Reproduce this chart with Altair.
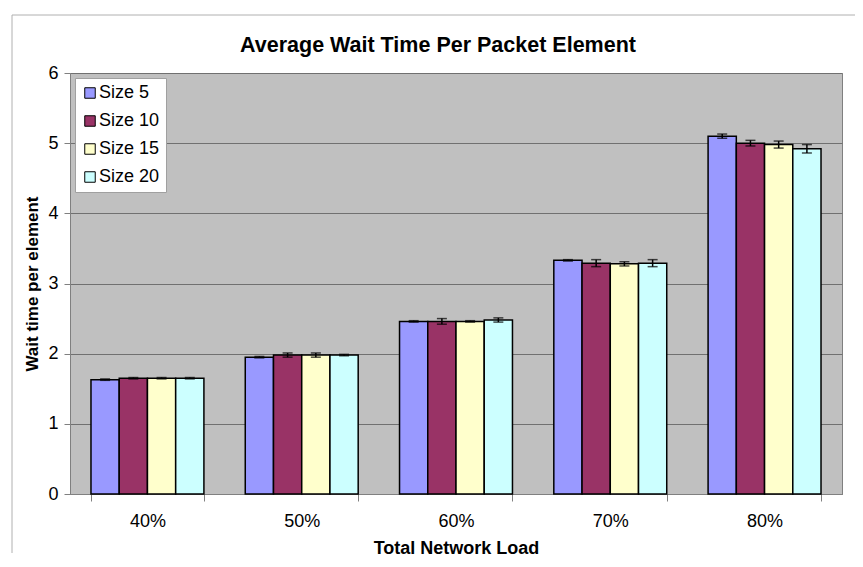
import altair as alt
import pandas as pd

loads = ["40%", "50%", "60%", "70%", "80%"]
sizes = ["Size 5", "Size 10", "Size 15", "Size 20"]
colors = ["#9999FF", "#993366", "#FFFFCC", "#CCFFFF"]
chart_title = ["Average Wait Time Per Packet Element"]

size5 = [1.63, 1.95, 2.46, 3.33, 5.10]
size10 = [1.65, 1.98, 2.46, 3.29, 5.00]
size15 = [1.65, 1.98, 2.46, 3.28, 4.98]
size20 = [1.65, 1.98, 2.48, 3.29, 4.92]

err5 = [0.01, 0.01, 0.01, 0.01, 0.03]
err10 = [0.01, 0.03, 0.04, 0.05, 0.04]
err15 = [0.01, 0.03, 0.01, 0.03, 0.05]
err20 = [0.01, 0.01, 0.03, 0.05, 0.06]

rows = []
for s, vals, errs in zip(sizes, [size5, size10, size15, size20], [err5, err10, err15, err20]):
    for l, v, e in zip(loads, vals, errs):
        rows.append({"load": l, "size": s, "value": v, "lo": v - e, "hi": v + e})
df = pd.DataFrame(rows)

FONT = "Liberation Sans"

x = alt.X("load:N", sort=loads, title="Total Network Load",
          scale=alt.Scale(paddingInner=0.268, paddingOuter=0.136),
          axis=alt.Axis(labelAngle=0, tickBand="extent", tickSize=7, tickColor="#808080",
                        domainColor="#808080", labelPadding=11, labelFontSize=18,
                        titleFontSize=18, titleFontWeight="bold", titlePadding=9,
                        labelFont=FONT, titleFont=FONT, labelColor="black", titleColor="black"))
xo = alt.XOffset("size:N", sort=sizes)

base = alt.Chart(df)

bars = base.mark_bar(stroke="black", strokeWidth=1.5).encode(
    x=x,
    xOffset=xo,
    y=alt.Y("value:Q", title="Wait time per element",
            scale=alt.Scale(domain=[0, 6], nice=False),
            axis=alt.Axis(values=[0, 1, 2, 3, 4, 5, 6], format="d", tickSize=6, tickColor="#808080",
                          domainColor="#808080", gridColor="#707070", gridWidth=1,
                          labelFontSize=18, titleFontSize=17, titleFontWeight="bold",
                          labelPadding=6, titlePadding=6, labelFont=FONT, titleFont=FONT,
                          labelColor="black", titleColor="black")),
    color=alt.Color("size:N", sort=sizes, title=None,
                    scale=alt.Scale(domain=sizes, range=colors),
                    legend=alt.Legend(orient="none", legendX=5, legendY=5,
                                      fillColor="white", strokeColor="#a0a0a0",
                                      padding=6, symbolType="square", symbolSize=110,
                                      symbolStrokeColor="black", symbolStrokeWidth=1,
                                      labelFontSize=18, labelFont=FONT, labelColor="black",
                                      rowPadding=10, labelOffset=0)),
)

err_rule = base.mark_rule(color="black", strokeWidth=1.5).encode(
    x=alt.X("load:N", sort=loads), xOffset=xo, y="lo:Q", y2="hi:Q")
cap_lo = base.mark_tick(color="black", size=10, thickness=1.5).encode(
    x=alt.X("load:N", sort=loads), xOffset=xo, y="lo:Q")
cap_hi = base.mark_tick(color="black", size=10, thickness=1.5).encode(
    x=alt.X("load:N", sort=loads), xOffset=xo, y="hi:Q")

title_mark = alt.Chart(pd.DataFrame({"t": chart_title})).mark_text(
    font=FONT, fontSize=21.5, fontWeight="bold", color="black", align="center", baseline="middle"
).encode(text="t:N", x=alt.value(368), y=alt.value(-27))

frame = alt.Chart(pd.DataFrame({"d": [0]})).mark_rule(color="#b0b0b0", strokeWidth=1, clip=False).encode(
    x=alt.value(-58), x2=alt.value(830), y=alt.value(-58))
frame2 = alt.Chart(pd.DataFrame({"d": [0]})).mark_rule(color="#b0b0b0", strokeWidth=1, clip=False).encode(
    x=alt.value(-58), y=alt.value(-58), y2=alt.value(480))

chart = alt.layer(bars, err_rule, cap_lo, cap_hi, title_mark, frame, frame2).properties(
    width=772, height=421,
    autosize=alt.AutoSizeParams(type="none"),
    padding={"left": 62, "top": 65, "right": 13, "bottom": 65},
).configure_view(fill="#C0C0C0", stroke="#808080", strokeWidth=1)

chart.save("out.html", embed_options={"renderer": "svg", "actions": False})
